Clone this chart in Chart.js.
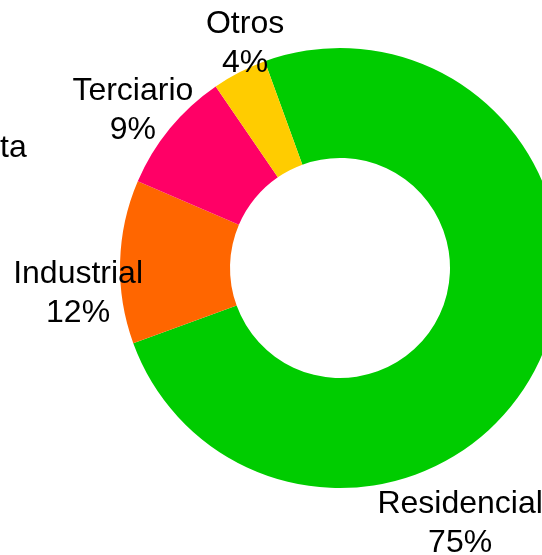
<!DOCTYPE html>
<html>
<head>
<meta charset="utf-8">
<script src="https://cdn.jsdelivr.net/npm/chart.js@4"></script>
<style>
  html, body { margin: 0; padding: 0; background: #fff; overflow: hidden; }
  #grafico { position: absolute; left: 0; top: 0; }
</style>
</head>
<body>
<canvas id="grafico" width="680" height="555"></canvas>
<script>
const categorias = ['Residencial', 'Industrial', 'Terciario', 'Otros'];
const porcentajes = [75, 12, 9, 4];
const colores = ['#00CC00', '#FF6600', '#FF0066', '#FFCC00'];

// etiquetas fuera del anillo: angulo desde arriba (grados, sentido horario) y factor del radio exterior
const posEtiquetas = [
  { ang: 154.6, f: 1.273 },
  { ang: 265, f: 1.195 },
  { ang: 307.7, f: 1.19 },
  { ang: 337.3, f: 1.118 }
];

const fuente = '32px "Liberation Sans", Arial, sans-serif';

const etiquetasPlugin = {
  id: 'etiquetas',
  afterDatasetsDraw(chart) {
    const ctx = chart.ctx;
    const arcos = chart.getDatasetMeta(0).data;
    ctx.save();
    ctx.font = fuente;
    ctx.fillStyle = '#000';
    ctx.textAlign = 'center';
    ctx.textBaseline = 'alphabetic';
    arcos.forEach((arco, i) => {
      const p = posEtiquetas[i];
      const a = p.ang * Math.PI / 180;
      const r = arco.outerRadius * p.f;
      const x = arco.x + r * Math.sin(a);
      const y = arco.y - r * Math.cos(a);
      ctx.fillText(categorias[i], x, y - 8);
      ctx.fillText(porcentajes[i] + '%', x, y + 31);
    });
    // resto de la etiqueta del grafico contiguo
    ctx.textAlign = 'left';
    ctx.fillText('ta', 0, 157);
    ctx.restore();
  }
};

new Chart(document.getElementById('grafico'), {
  type: 'doughnut',
  data: {
    labels: categorias,
    datasets: [{
      data: porcentajes,
      backgroundColor: colores,
      borderWidth: 0
    }]
  },
  options: {
    responsive: false,
    animation: false,
    rotation: -20,
    cutout: '50%',
    events: [],
    layout: { padding: { top: 48, bottom: 67, left: 0, right: 0 } },
    plugins: {
      legend: { display: false },
      tooltip: { enabled: false }
    }
  },
  plugins: [etiquetasPlugin]
});
</script>
</body>
</html>
